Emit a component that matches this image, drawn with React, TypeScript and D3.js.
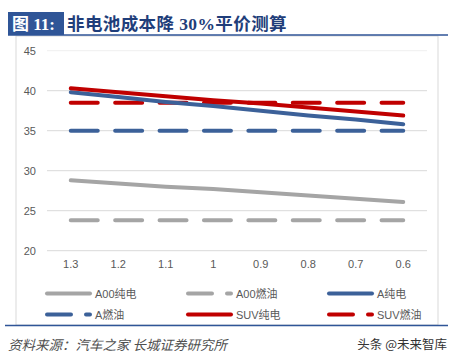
import React from "react";
import * as d3 from "d3";

const categories = ["1.3", "1.2", "1.1", "1", "0.9", "0.8", "0.7", "0.6"];
const yTicks = [20, 25, 30, 35, 40, 45];

const a00Ev = [28.8, 28.4, 28.0, 27.7, 27.3, 26.9, 26.5, 26.1];
const a00Fuel = [23.8, 23.8, 23.8, 23.8, 23.8, 23.8, 23.8, 23.8];
const aEv = [39.8, 39.2, 38.6, 38.1, 37.5, 36.9, 36.4, 35.8];
const aFuel = [35, 35, 35, 35, 35, 35, 35, 35];
const suvEv = [40.3, 39.8, 39.3, 38.8, 38.4, 37.9, 37.4, 36.9];
const suvFuel = [38.5, 38.5, 38.5, 38.5, 38.5, 38.5, 38.5, 38.5];

const seriesNames = ["A00纯电", "A00燃油", "A纯电", "A燃油", "SUV纯电", "SUV燃油"];

const GRAY = "#A5A5A5";
const BLUE = "#3C6199";
const RED = "#C00000";

const series = [
  { name: seriesNames[0], values: a00Ev, color: GRAY, dashed: false },
  { name: seriesNames[1], values: a00Fuel, color: GRAY, dashed: true },
  { name: seriesNames[2], values: aEv, color: BLUE, dashed: false },
  { name: seriesNames[3], values: aFuel, color: BLUE, dashed: true },
  { name: seriesNames[4], values: suvEv, color: RED, dashed: false },
  { name: seriesNames[5], values: suvFuel, color: RED, dashed: true },
];

export default function App() {
  const W = 456;
  const H = 359;
  const left = 47;
  const right = 427;
  const x = d3.scaleBand<string>().domain(categories).range([left, right]);
  const y = d3.scaleLinear().domain([20, 45]).range([250.7, 50.7]);
  const cx = (c: string) => (x(c) as number) + x.bandwidth() / 2;
  const line = d3
    .line<number>()
    .x((_, i) => cx(categories[i]))
    .y((d) => y(d));

  const drawOrder = [1, 3, 5, 0, 2, 4];
  const legendPos = [
    { lx: 45, ly: 293.5 },
    { lx: 186, ly: 293.5 },
    { lx: 327, ly: 293.5 },
    { lx: 45, ly: 314.5 },
    { lx: 186, ly: 314.5 },
    { lx: 327, ly: 314.5 },
  ];

  return (
    <svg
      width={W}
      height={H}
      style={{ position: "absolute", left: 0, top: 0, background: "#fff" }}
    >
      <rect x={0} y={0} width={W} height={H} fill="#fff" />
      {/* chart frame */}
      <rect x={16} y={36} width={422} height={289} fill="none" stroke="#D9D9D9" strokeWidth={1} />
      {/* title */}
      <rect x={8} y={12} width={56} height={23} fill="#2F5597" />
      <text
        x={12}
        y={30}
        fill="#fff"
        fontSize={17}
        fontWeight="bold"
        fontFamily="'Liberation Serif', 'Noto Sans CJK SC', serif"
      >
        图 11:
      </text>
      <text
        x={67}
        y={30}
        fill="#1F3E7A"
        fontSize={17.5}
        fontWeight="bold"
        letterSpacing={0.4}
        fontFamily="'Liberation Serif', 'Noto Sans CJK SC', serif"
      >
        非电池成本降 30%平价测算
      </text>
      <line x1={8} x2={448} y1={35} y2={35} stroke="#2F5597" strokeWidth={1.5} />

      {/* gridlines & y labels */}
      {yTicks.map((t) => (
        <g key={t}>
          <line x1={left} x2={right} y1={y(t)} y2={y(t)} stroke={t === 45 ? "#EFEFEF" : "#D9D9D9"} strokeWidth={1} />
          <text
            x={36}
            y={y(t) + 4}
            textAnchor="end"
            fontSize={11}
            fill="#595959"
            fontFamily="'Liberation Sans', Arial, sans-serif"
          >
            {t}
          </text>
        </g>
      ))}
      {/* x labels */}
      {categories.map((c) => (
        <text
          key={c}
          x={cx(c)}
          y={268}
          textAnchor="middle"
          fontSize={11}
          fill="#595959"
          fontFamily="'Liberation Sans', Arial, sans-serif"
        >
          {c}
        </text>
      ))}

      {/* series */}
      {drawOrder.map((i) => {
        const s = series[i];
        return (
          <path
            key={s.name}
            d={line(s.values) as string}
            fill="none"
            stroke={s.color}
            strokeWidth={4}
            strokeLinecap="round"
            strokeDasharray={s.dashed ? "27 17.4" : undefined}
          />
        );
      })}

      {/* legend */}
      {series.map((s, i) => {
        const { lx, ly } = legendPos[i];
        return (
          <g key={s.name}>
            {s.dashed ? (
              <>
                <line x1={lx + 2} x2={lx + 26} y1={ly} y2={ly} stroke={s.color} strokeWidth={4} strokeLinecap="round" />
                <line x1={lx + 41} x2={lx + 45} y1={ly} y2={ly} stroke={s.color} strokeWidth={4} strokeLinecap="round" />
              </>
            ) : (
              <line x1={lx + 2} x2={lx + 45} y1={ly} y2={ly} stroke={s.color} strokeWidth={4} strokeLinecap="round" />
            )}
            <text
              x={lx + 50}
              y={ly + 4}
              fontSize={11}
              fill="#595959"
              fontFamily="'Liberation Sans', 'Noto Sans CJK SC', sans-serif"
            >
              {s.name}
            </text>
          </g>
        );
      })}

      {/* footer */}
      <line x1={5} x2={448} y1={325.5} y2={325.5} stroke="#2F5597" strokeWidth={1.5} />
      <text
        x={8}
        y={350}
        fontSize={13.5}
        fill="#505050"
        fontStyle="italic"
        fontFamily="'Noto Sans CJK SC', sans-serif"
      >
        资料来源：汽车之家 长城证券研究所
      </text>
      <text
        x={447}
        y={349}
        textAnchor="end"
        fontSize={12.5}
        fill="#333"
        fontFamily="'Noto Sans CJK SC', sans-serif"
      >
        头条 @未来智库
      </text>
    </svg>
  );
}
